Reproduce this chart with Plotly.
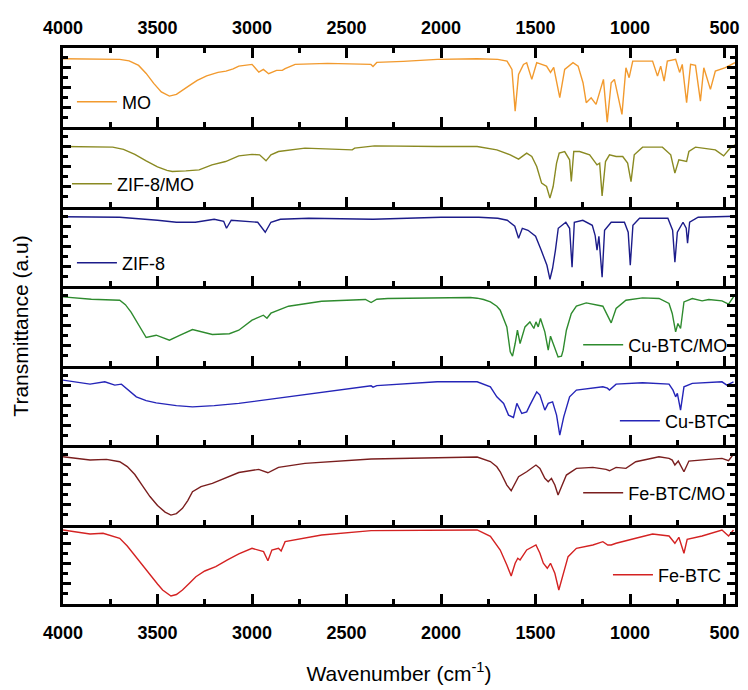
import plotly.graph_objects as go

# ---------------- data (wavenumber in cm-1, transmittance in a.u.) ----------------
names = ["MO", "ZIF-8/MO", "ZIF-8", "Cu-BTC/MO", "Cu-BTC", "Fe-BTC/MO", "Fe-BTC"]
colors = ["#F29A2E", "#8A8A22", "#1C1C8A", "#2E8B2E", "#2525B8", "#7A1E1E", "#D42222"]

wn_mo = [4000, 3850, 3700, 3650, 3600, 3560, 3520, 3480, 3437, 3400, 3370, 3330, 3290, 3240, 3180,
         3138, 3100, 3070, 3000, 2964,
         2940, 2912, 2870, 2840, 2825, 2772, 2600, 2371, 2360, 2340, 2200, 2020, 1809, 1757, 1700,
         1651, 1625, 1608, 1590, 1564, 1547, 1520, 1494, 1442, 1421, 1404, 1372, 1346, 1302, 1275,
         1249, 1232, 1206, 1180, 1154, 1141, 1121, 1100, 1083, 1043, 1022, 1005, 986, 934, 881,
         855, 838, 820, 803, 759, 738, 724, 701, 680, 654, 628, 610, 575, 549, 496, 445]
t_mo = [68.7, 68.5, 68, 66.5, 62, 54, 44, 35.5, 31.3, 33, 36.5, 42, 47, 51.5, 55,
        56.3, 58.5, 61.3, 63, 55.3,
        58, 53.7, 57, 57, 58.7, 63, 64, 63, 61, 65, 66, 68, 68.7, 68.7, 68,
        66.3, 58, 16.3, 53, 63, 64.7, 48, 64.7, 61.3, 55, 60, 29.7, 58, 64.7, 61.3,
        44.7, 24.7, 29.7, 23, 41.3, 48, 5.3, 44.7, 48, 13, 59.7, 49.7, 66.3, 66.3, 66.3,
        51.3, 61.3, 46.3, 66.3, 68, 55, 63, 24.7, 63, 62, 26.3, 59.7, 38, 56.3, 59.7, 64.7]

wn_zifmo = [4000, 3737, 3680, 3620, 3560, 3500, 3450, 3422, 3350, 3280, 3212, 3140, 3070, 3000,
            2960, 2926, 2900, 2860,
            2720, 2470, 2457, 2352, 2020, 1809, 1705, 1634, 1590, 1547, 1520, 1494, 1468, 1442,
            1424, 1407, 1389, 1375, 1346, 1320, 1311, 1298, 1267, 1214, 1175, 1161, 1148, 1130,
            1109, 1074, 1039, 1013, 995, 978, 934, 829, 785, 763, 742, 701, 689, 654, 549, 505,
            470, 445]
t_zifmo = [60.3, 59.7, 57.5, 52.5, 46, 40, 36.5, 35.3, 36, 37, 42, 45.3, 51, 52.5,
           52, 46, 52, 55.3,
           58.7, 57, 58.7, 61, 60.3, 60.3, 57, 52, 47.7, 53.7, 50.3, 40.3, 23.7, 20.3,
           8.7, 20.3, 43.7, 53.7, 55.3, 47, 25.3, 55.3, 55.3, 52, 42, 43.7, 11, 45.3,
           52, 50.3, 50.3, 43.7, 25.3, 52, 59.7, 59.7, 52, 33.7, 47, 45.3, 55.3, 59.7, 57, 51,
           58.7, 62]

wn_zif = [4000, 3700, 3500, 3400, 3300, 3200, 3150, 3135, 3110, 2970, 2930, 2900, 2850, 2700,
          2360, 2000, 1800, 1700, 1650, 1610, 1590, 1570, 1540, 1500, 1470, 1440, 1424, 1410,
          1395, 1380, 1340, 1320, 1307, 1295, 1250, 1200, 1185, 1175, 1165, 1148, 1135, 1100,
          1030, 1010, 999, 985, 950, 800, 775, 763, 750, 720, 703, 696, 685, 640, 445]
t_zif = [69.5, 69, 66, 64, 64, 67, 65, 58, 66, 64, 54, 64, 67, 68,
         67, 69, 69, 68, 66, 60, 48, 58, 56, 50, 36, 21, 7, 18,
         36, 58, 64, 58, 19, 64, 66, 61, 51, 36, 50, 9, 56, 64,
         64, 54, 21, 61, 68, 68, 56, 24, 54, 64, 58, 43, 64, 69, 70]

wn_cumo = [4000, 3850, 3700, 3670, 3640, 3600, 3560, 3507, 3437, 3380, 3315, 3210, 3120, 3070,
           3000, 2940,
           2921, 2900, 2807, 2632, 2400, 2370, 2340, 2282, 1845, 1809, 1775, 1739, 1705, 1687,
           1652, 1634, 1622, 1608, 1596, 1582, 1556, 1530, 1509, 1498, 1486, 1474, 1451, 1433,
           1421, 1407, 1381, 1363, 1354, 1337, 1311, 1284, 1232, 1144, 1118, 1100, 1074, 1022,
           934, 847, 794, 777, 759, 747, 733, 715, 671, 619, 584, 514, 479, 453]
t_cumo = [68.8, 66.5, 65.5, 61, 53.5, 40.5, 28.2, 30.5, 25.5, 30.5, 36.2, 31.2, 32, 35.5,
          45.5, 50.5,
          47.5, 52.5, 59.5, 64.5, 66.2, 63.2, 66.5, 67.2, 68.2, 67.5, 66.2, 63.8, 59.5, 55.5,
          38.8, 13.8, 9.5, 22.2, 35.5, 22.2, 38.8, 43.8, 37.2, 43.8, 38.8, 47.2, 33.8, 15.5,
          29.5, 22.2, 8.8, 9.5, 15.5, 35.5, 52.2, 59.5, 62.8, 59.5, 50.5, 42.8, 57.2, 65.5,
          67.8, 67.2, 62.2, 52.2, 33.8, 42.2, 37.2, 63.8, 67.2, 64.8, 66.2, 64.8, 61.5, 68.8]

wn_cu = [4000, 3857, 3779, 3726, 3691, 3650, 3612, 3560, 3507, 3400, 3315, 3200, 3070, 2900,
         2720, 2550, 2370, 2360, 2340, 2020,
         1809, 1739, 1705, 1669, 1643, 1617, 1599, 1573, 1547, 1530, 1494, 1477, 1451, 1433,
         1410, 1389, 1372, 1351, 1320, 1284, 1144, 1120, 1109, 1074, 934, 794, 773, 759, 750,
         733, 715, 671, 514, 488, 453]
t_cu = [65, 61, 63.3, 60, 61, 54, 48.3, 44.5, 42.3, 39.5, 38.3, 39.5, 41.7, 46,
        50.7, 55, 59.3, 58, 59.5, 63.3,
        63.3, 58.3, 48.3, 41.7, 30, 27.7, 41.7, 31.7, 33.3, 40, 53.3, 50, 35, 41.7,
        43.3, 30, 10, 28.3, 48.3, 55, 58.3, 57, 55, 61, 62.3, 61, 55, 48.3, 51.7,
        35, 58.3, 61.7, 63.3, 60, 63.3]

wn_femo = [4000, 3857, 3770, 3700, 3660, 3620, 3580, 3540, 3500, 3460, 3429, 3400, 3368, 3340,
           3315, 3270, 3210, 3140, 3070, 2965, 2916,
           2860, 2720, 2370, 2020, 1809, 1739, 1705, 1687, 1652, 1629, 1608, 1590, 1547, 1498,
           1477, 1451, 1433, 1416, 1398, 1381, 1363, 1337, 1284, 1197, 1127, 1109, 1074, 1022,
           970, 847, 794, 777, 763, 745, 715, 689, 584, 514, 479, 453]
t_femo = [67.8, 64.5, 65.2, 62.8, 58, 50, 39, 28, 19, 12.5, 9.5, 11, 16.2, 24,
          32.8, 38, 41.2, 47, 52, 55.2, 51.8,
          57.2, 61.2, 65.5, 67.2, 67.5, 63, 57.8, 52.8, 39.5, 33.8, 41.2, 47.8, 52.8, 59.5,
          56.2, 46.2, 42.8, 46.2, 39.5, 29.5, 37.8, 49.5, 56.2, 57.2, 55.2, 53.8, 57.2, 56.2,
          62.8, 67.8, 66.2, 64.5, 59.5, 63.5, 52.8, 63.5, 65.2, 66.2, 63.8, 70.5]

wn_fe = [4000, 3857, 3788, 3700, 3660, 3630, 3590, 3543, 3500, 3473, 3440, 3429, 3400, 3368,
         3330, 3297, 3250, 3192, 3130, 3070, 3000, 2939,
         2916, 2895, 2860, 2846, 2825, 2632, 2370, 2020, 1809, 1739, 1705, 1687, 1652, 1629,
         1608, 1594, 1582, 1547, 1498, 1477, 1459, 1438, 1421, 1398, 1377, 1358, 1328, 1284,
         1197, 1144, 1118, 1100, 1074, 970, 881, 794, 763, 742, 715, 698, 619, 514, 479, 453]
t_fe = [74, 70, 70.7, 65.7, 58, 50.7, 41, 30.7, 20, 14, 9, 8, 9.5, 14,
        21, 27.3, 33, 37.3, 44, 50, 55.7, 52.3,
        43.3, 54, 55.7, 53, 62.3, 69, 73.3, 74, 74, 67.7, 59, 54, 39, 28,
        40.7, 45.7, 44, 54, 59, 50.7, 40.7, 35.7, 40.7, 30.7, 14, 27.3, 47.3, 55.7,
        59, 62.3, 59, 59, 60.7, 65.7, 70, 68, 60.7, 66.7, 50.7, 64.7, 68, 74, 68, 74]

x_ticks = [4000, 3500, 3000, 2500, 2000, 1500, 1000, 500]
x_ticktext = ["4000", "3500", "3000", "2500", "2000", "1500", "1000", "500"]

series_x = [wn_mo, wn_zifmo, wn_zif, wn_cumo, wn_cu, wn_femo, wn_fe]
series_y = [t_mo, t_zifmo, t_zif, t_cumo, t_cu, t_femo, t_fe]

# ---------------- layout geometry ----------------
# the page body has an 8px margin, so the figure is 8px smaller and margins shifted
OFF = 8
W, H = 748 - OFF, 690 - OFF
ML, MR, MT, MB = 63 - OFF, 8, 48 - OFF, 86
PW, PH = W - ML - MR, H - MT - MB
N = 7
FONT = "Liberation Sans, Arial, sans-serif"

def px_x(px):
    return (px - OFF - ML) / PW

def px_y(py):
    return (H + OFF - MB - py) / PH

# legend anchor: (line start x px, centre y px) in page pixels
legend_pos = [(78, 102), (73, 184), (78, 263), (588, 345), (625, 421), (588, 493), (618, 575)]

fig = go.Figure()
for i in range(N):
    lname = "legend" if i == 0 else f"legend{i + 1}"
    fig.add_trace(go.Scatter(
        x=series_x[i], y=series_y[i], mode="lines", name=names[i],
        line=dict(color=colors[i], width=1.4),
        xaxis=f"x{i + 1}" if i else "x", yaxis=f"y{i + 1}" if i else "y",
        legend=lname, showlegend=True,
    ))

layout = dict(
    width=W, height=H,
    margin=dict(l=ML, r=MR, t=MT, b=MB),
    paper_bgcolor="white", plot_bgcolor="white",
    font=dict(family=FONT, color="black"),
    showlegend=True,
)

for i in range(N):
    top = 1 - i / N
    bot = 1 - (i + 1) / N
    xa = dict(
        range=[4000, 445], domain=[0, 1], anchor=f"y{i + 1}" if i else "y",
        showgrid=False, zeroline=False,
        showline=True, linecolor="black", linewidth=3,
        ticks="inside", ticklen=10, tickwidth=2.5, tickcolor="black",
        tickvals=x_ticks, ticktext=x_ticktext,
        minor=dict(dtick=250, tick0=0, ticks="inside", ticklen=5, tickwidth=2.5,
                   tickcolor="black", showgrid=False),
        showticklabels=False,
        tickfont=dict(family=FONT, size=18, color="black", weight="bold"),
    )
    if i == 0:
        xa.update(side="top", mirror="ticks", showticklabels=True, ticklabelstandoff=4)
    if i == N - 1:
        xa.update(showticklabels=True, ticklabelstandoff=10,
                  title=dict(text="Wavenumber (cm<sup>-1</sup>)",
                             font=dict(family=FONT, size=21, color="black"), standoff=25))
    layout["xaxis" if i == 0 else f"xaxis{i + 1}"] = xa

    ya = dict(
        range=[0, 79.4], domain=[bot, top], anchor=f"x{i + 1}" if i else "x",
        showgrid=False, zeroline=False, showticklabels=False,
        showline=True, linecolor="black", linewidth=3, mirror="ticks",
        ticks="inside", ticklen=8, tickwidth=2.5, tickcolor="black",
        dtick=20, tick0=0,
        minor=dict(dtick=10, ticks="inside", ticklen=5, tickwidth=2.5, tickcolor="black",
                   showgrid=False),
    )
    if i == 3:
        ya.update(title=dict(text="Transmittance (a.u)",
                             font=dict(family=FONT, size=21, color="black"), standoff=26))
    layout["yaxis" if i == 0 else f"yaxis{i + 1}"] = ya

    lx, ly = legend_pos[i]
    layout["legend" if i == 0 else f"legend{i + 1}"] = dict(
        x=px_x(lx - 6), y=px_y(ly), xanchor="left", yanchor="middle",
        bgcolor="rgba(0,0,0,0)", borderwidth=0, itemwidth=40,
        font=dict(family=FONT, size=18, color="black"),
    )

fig.update_layout(**layout)
fig.write_html("out.html")
